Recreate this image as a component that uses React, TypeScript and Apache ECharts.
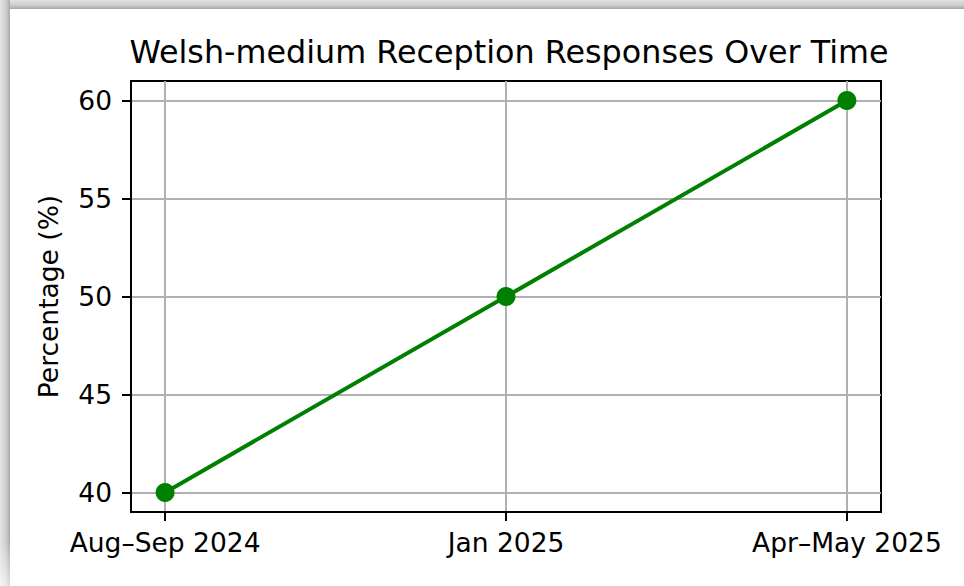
import React, { useEffect, useRef } from "react";
import * as echarts from "echarts";

const TITLE = "Welsh-medium Reception Responses Over Time";
const Y_NAME = "Percentage (%)";
const categories = ["Aug–Sep 2024", "Jan 2025", "Apr–May 2025"];
const percentages = [40, 50, 60];
const yTicks = [40, 45, 50, 55, 60];

const FONT = "DejaVu Sans";

export default function App() {
  const ref = useRef<HTMLDivElement>(null);

  useEffect(() => {
    if (!ref.current) return;
    const chart = echarts.init(ref.current, null, { renderer: "svg" });
    const xIdx = categories.map((_, i) => i);
    chart.setOption({
      animation: false,
      backgroundColor: "transparent",
      title: {
        text: TITLE,
        left: 504,
        textAlign: "center",
        top: 30,
        textStyle: { fontFamily: FONT, fontSize: 31.8, fontWeight: "normal", color: "#000" },
      },
      grid: {
        left: 131,
        top: 81,
        width: 750,
        height: 431,
        show: true,
        borderColor: "#000",
        borderWidth: 2,
        backgroundColor: "transparent",
        outerBoundsMode: "none",
        containLabel: false,
      },
      xAxis: {
        type: "value",
        min: -0.1,
        max: 2.1,
        axisLine: { show: true, onZero: false, lineStyle: { color: "#000", width: 2 } },
        axisTick: {
          show: true,
          length: 9,
          customValues: xIdx,
          lineStyle: { color: "#000", width: 2 },
        },
        axisLabel: {
          customValues: xIdx,
          margin: 17,
          fontFamily: FONT,
          fontSize: 26.5,
          color: "#000",
          formatter: (v: number) => categories[Math.round(v)] ?? "",
        },
        splitLine: { show: true, lineStyle: { color: "#b0b0b0", width: 2 } },
      },
      yAxis: {
        type: "value",
        min: 39,
        max: 61,
        name: Y_NAME,
        nameLocation: "middle",
        nameGap: 69,
        nameTextStyle: { fontFamily: FONT, fontSize: 26.5, color: "#000" },
        axisLine: { show: true, onZero: false, lineStyle: { color: "#000", width: 2 } },
        axisTick: {
          show: true,
          length: 9,
          customValues: yTicks,
          lineStyle: { color: "#000", width: 2 },
        },
        axisLabel: {
          customValues: yTicks,
          margin: 19,
          fontFamily: FONT,
          fontSize: 26.5,
          color: "#000",
        },
        splitLine: { show: true, lineStyle: { color: "#b0b0b0", width: 2 } },
      },
      series: [
        {
          type: "line",
          data: percentages.map((v, i) => [xIdx[i], v]),
          color: "#008000",
          lineStyle: { color: "#008000", width: 4 },
          itemStyle: { color: "#008000" },
          symbol: "circle",
          symbolSize: 19,
          showSymbol: true,
          z: 5,
        },
      ],
    });
    return () => chart.dispose();
  }, []);

  return (
    <div
      style={{
        position: "absolute",
        left: 0,
        top: 0,
        width: 964,
        height: 586,
        background: "#fff",
        overflow: "hidden",
      }}
    >
      <div ref={ref} style={{ position: "absolute", left: 0, top: 0, width: 964, height: 586 }} />
      <div
        style={{
          position: "absolute",
          left: 0,
          top: 0,
          width: 964,
          height: 9,
          background: "linear-gradient(to bottom, #e2e2e2 0%, #cbcbcb 60%, #a5a5a5 100%)",
        }}
      />
      <div
        style={{
          position: "absolute",
          left: 0,
          top: 0,
          width: 10,
          height: 586,
          background: "linear-gradient(to right, #e4e4e4 0%, #cdcdcd 60%, #a8a8a8 100%)",
        }}
      />
      <div
        style={{
          position: "absolute",
          left: 0,
          top: 540,
          width: 10,
          height: 46,
          background: "linear-gradient(to bottom, rgba(255,255,255,0) 0%, rgba(255,255,255,0.6) 100%)",
        }}
      />
    </div>
  );
}
